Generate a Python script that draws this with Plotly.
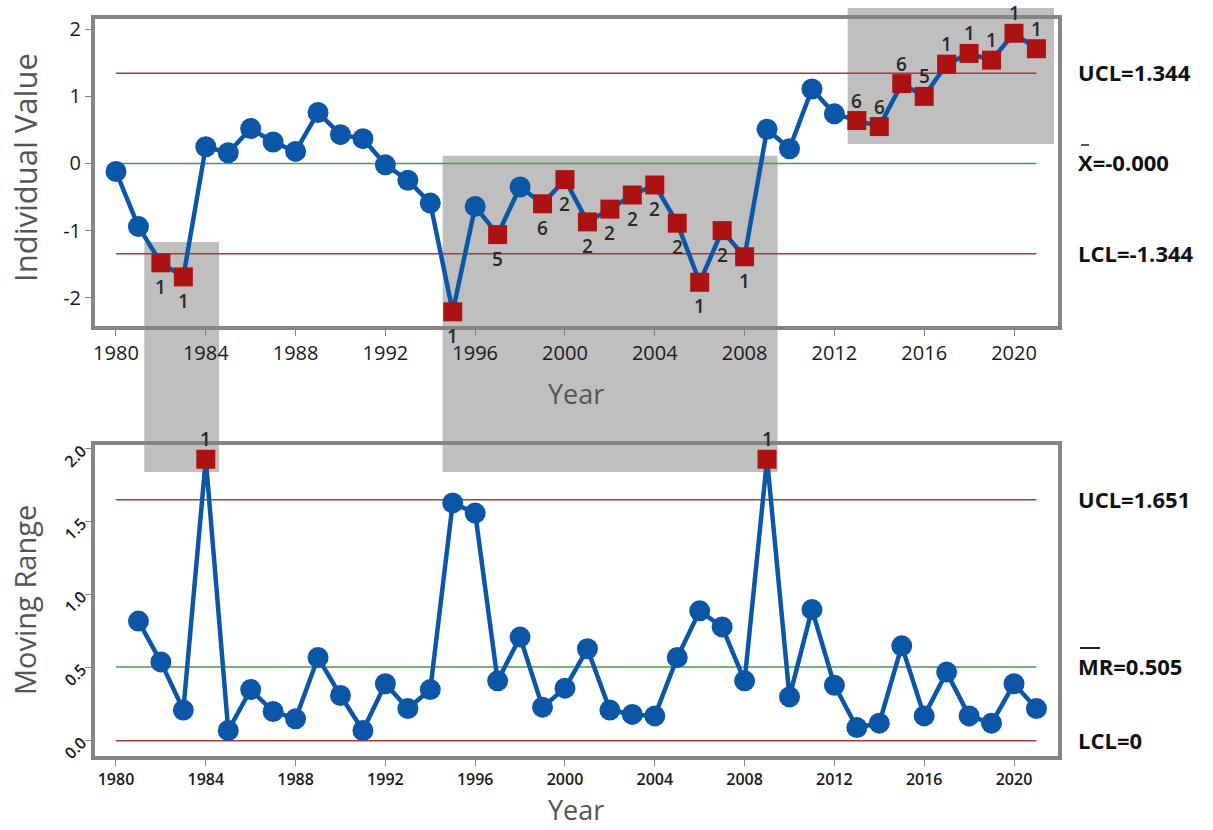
import plotly.graph_objects as go

# ---------------- data ----------------
YEARS = list(range(1980, 2022))

INDIVIDUAL = [-0.12, -0.94, -1.48, -1.69, 0.25, 0.16, 0.52, 0.32, 0.18, 0.76,   # 1980-1989
              0.43, 0.37, -0.02, -0.25, -0.59, -2.21, -0.64, -1.06, -0.35, -0.60,  # 1990-1999
              -0.24, -0.87, -0.68, -0.47, -0.32, -0.89, -1.77, -1.00, -1.39, 0.51,  # 2000-2009
              0.22, 1.11, 0.74, 0.64, 0.55, 1.19, 1.00, 1.48, 1.64, 1.54,  # 2010-2019
              1.94, 1.71]  # 2020-2021

# failed-test numbers for the individuals chart ('' = no test failed)
I_TESTS = ['', '', '1', '1', '', '', '', '', '', '',
           '', '', '', '', '', '1', '', '5', '', '6',
           '2', '2', '2', '2', '2', '2', '1', '2', '1', '',
           '', '', '', '6', '6', '6', '5', '1', '1', '1',
           '1', '1']

MR_YEARS = YEARS[1:]
MOVING_RANGE = [0.82, 0.54, 0.21, 1.93, 0.07, 0.35, 0.20, 0.15, 0.57, 0.31,   # 1981-1990
                0.07, 0.39, 0.22, 0.35, 1.63, 1.56, 0.41, 0.71, 0.23, 0.36,   # 1991-2000
                0.63, 0.21, 0.18, 0.17, 0.57, 0.89, 0.78, 0.41, 1.93, 0.30,   # 2001-2010
                0.90, 0.38, 0.09, 0.12, 0.65, 0.17, 0.47, 0.17, 0.12, 0.39,   # 2011-2020
                0.22]  # 2021

MR_TESTS = ['' for _ in MR_YEARS]
MR_TESTS[MR_YEARS.index(1984)] = '1'
MR_TESTS[MR_YEARS.index(2009)] = '1'

I_CL, I_UCL, I_LCL = 0.0, 1.344, -1.344
MR_CL, MR_UCL, MR_LCL = 0.505, 1.651, 0.0

I_LIMIT_TEXT = ['UCL=1.344', 'X=-0.000', 'LCL=-1.344']
MR_LIMIT_TEXT = ['UCL=1.651', 'MR=0.505', 'LCL=0']

I_TICKS = [-2, -1, 0, 1, 2]
I_TICK_TEXT = ['-2', '-1', '0', '1', '2']
MR_TICKS = [0, 0.5, 1, 1.5, 2]
X_TICKS = list(range(1980, 2021, 4))

# shaded windows around the out-of-control runs: (start year, end year, bottom, top) in paper units
HIGHLIGHTS = [(1981.26, 1984.59, 0.3853, 0.6974),
              (1994.55, 2009.47, 0.3853, 0.8145),
              (2012.59, 2021.78, 0.8304, 1.0150)]

# ---------------- style ----------------
W, H = 1213, 830
ML, MR_, MT, MB = 95, 155, 19, 74
FONT = 'Open Sans'
BLUE = '#0b56a6'
RED_MARK = '#ad1212'
RED_LINE = '#a83a3a'
GREEN_LINE = '#4a9a4a'
FRAME = '#858585'
BOX = '#bfbfbf'


def px_x(px):
    return (px - ML) / (W - ML - MR_)


def px_y(py):
    return (H - MB - py) / (H - MT - MB)


fig = go.Figure()


def add_chart(xs, ys, tests, xa, ya, cl, ucl, lcl):
    # centre line and control limits
    for val, col in ((ucl, RED_LINE), (cl, GREEN_LINE), (lcl, RED_LINE)):
        fig.add_trace(go.Scatter(x=[YEARS[0], YEARS[-1]], y=[val, val], mode='lines',
                                 line=dict(color=col, width=1.5), xaxis=xa, yaxis=ya,
                                 hoverinfo='skip', showlegend=False))
    fig.add_trace(go.Scatter(x=xs, y=ys, mode='lines', line=dict(color=BLUE, width=4.5),
                             xaxis=xa, yaxis=ya, showlegend=False))
    ok_x = [x for x, t in zip(xs, tests) if not t]
    ok_y = [y for y, t in zip(ys, tests) if not t]
    bad_x = [x for x, t in zip(xs, tests) if t]
    bad_y = [y for y, t in zip(ys, tests) if t]
    fig.add_trace(go.Scatter(x=ok_x, y=ok_y, mode='markers',
                             marker=dict(symbol='circle', size=21, color=BLUE),
                             xaxis=xa, yaxis=ya, showlegend=False))
    fig.add_trace(go.Scatter(x=bad_x, y=bad_y, mode='markers',
                             marker=dict(symbol='square', size=19, color=RED_MARK),
                             xaxis=xa, yaxis=ya, showlegend=False))
    ax_x = 'x' if xa == 'x' else 'x2'
    ax_y = 'y' if ya == 'y' else 'y2'
    for x, y, t in zip(xs, ys, tests):
        if not t:
            continue
        above = y > cl or ya == 'y2'
        fig.add_annotation(x=x, y=y, xref=ax_x, yref=ax_y, text=t, showarrow=False,
                           xanchor='center', yanchor='middle',
                           yshift=20 if above else -24,
                           font=dict(family=FONT, size=19, color='#2a2a2a', weight=600))


add_chart(YEARS, INDIVIDUAL, I_TESTS, 'x', 'y', I_CL, I_UCL, I_LCL)
add_chart(MR_YEARS, MOVING_RANGE, MR_TESTS, 'x2', 'y2', MR_CL, MR_UCL, MR_LCL)

# limit labels at the right of each chart
LIMIT_FONT = dict(family=FONT, size=22, color='#111', weight=700)
for val, txt in zip((I_UCL, I_CL, I_LCL), I_LIMIT_TEXT):
    fig.add_annotation(x=px_x(1076), y=val, xref='paper', yref='y', text=txt,
                       showarrow=False, xanchor='left', yanchor='middle', yshift=1,
                       font=LIMIT_FONT)
for val, txt in zip((MR_UCL, MR_CL, MR_LCL), MR_LIMIT_TEXT):
    fig.add_annotation(x=px_x(1076), y=val, xref='paper', yref='y2', text=txt,
                       showarrow=False, xanchor='left', yanchor='middle', yshift=1,
                       font=LIMIT_FONT)

# bars over X and MR
shapes = [
    dict(type='line', xref='paper', yref='paper', x0=px_x(1081), x1=px_x(1089),
         y0=px_y(145), y1=px_y(145), line=dict(color='#222', width=1.5), layer='above'),
    dict(type='line', xref='paper', yref='paper', x0=px_x(1080), x1=px_x(1100),
         y0=px_y(648), y1=px_y(648), line=dict(color='#222', width=2), layer='above'),
]
for x0, x1, y0, y1 in HIGHLIGHTS:
    shapes.append(dict(type='rect', xref='x', yref='paper', x0=x0, x1=x1, y0=y0, y1=y1,
                       fillcolor=BOX, line=dict(width=0), layer='below'))

# axis titles
for cx, cy, txt, ang, size in ((25, 168, 'Individual Value', -90, 31),
                               (576, 393, 'Year', 0, 27),
                               (24, 600, 'Moving Range', -90, 29),
                               (576, 810, 'Year', 0, 27)):
    fig.add_annotation(x=px_x(cx), y=px_y(cy), xref='paper', yref='paper', text=txt,
                       textangle=ang, showarrow=False, xanchor='center', yanchor='middle',
                       font=dict(family=FONT, size=size, color='#555555'))

common_axis = dict(showline=True, mirror=True, linewidth=4, linecolor=FRAME,
                   ticks='outside', ticklen=6, tickwidth=1, tickcolor=FRAME,
                   showgrid=False, zeroline=False)
XRANGE = [1979.065, 2021.96]

fig.update_layout(
    width=W, height=H, autosize=False,
    margin=dict(l=ML, r=MR_, t=MT, b=MB),
    paper_bgcolor='white', plot_bgcolor='rgba(0,0,0,0)',
    showlegend=False, shapes=shapes,
    xaxis=dict(domain=[0, 1], range=XRANGE, tickvals=X_TICKS, anchor='y',
               tickfont=dict(family=FONT, size=20, color='#1a1a1a'), **common_axis),
    yaxis=dict(domain=[0.5834, 1], range=[-2.422, 2.153], tickvals=I_TICKS, ticktext=I_TICK_TEXT,
               anchor='x', tickfont=dict(family=FONT, size=20, color='#1a1a1a'), **common_axis),
    xaxis2=dict(domain=[0, 1], range=XRANGE, tickvals=X_TICKS, anchor='y2',
                tickfont=dict(family=FONT, size=16, color='#1a1a1a', weight=600), **common_axis),
    yaxis2=dict(domain=[0, 0.4224], range=[-0.105, 2.029], tickvals=MR_TICKS,
                tickformat='.1f', tickangle=-45, anchor='x2',
                tickfont=dict(family=FONT, size=16, color='#1a1a1a', weight=600), **common_axis),
)

fig.write_html('out.html')
